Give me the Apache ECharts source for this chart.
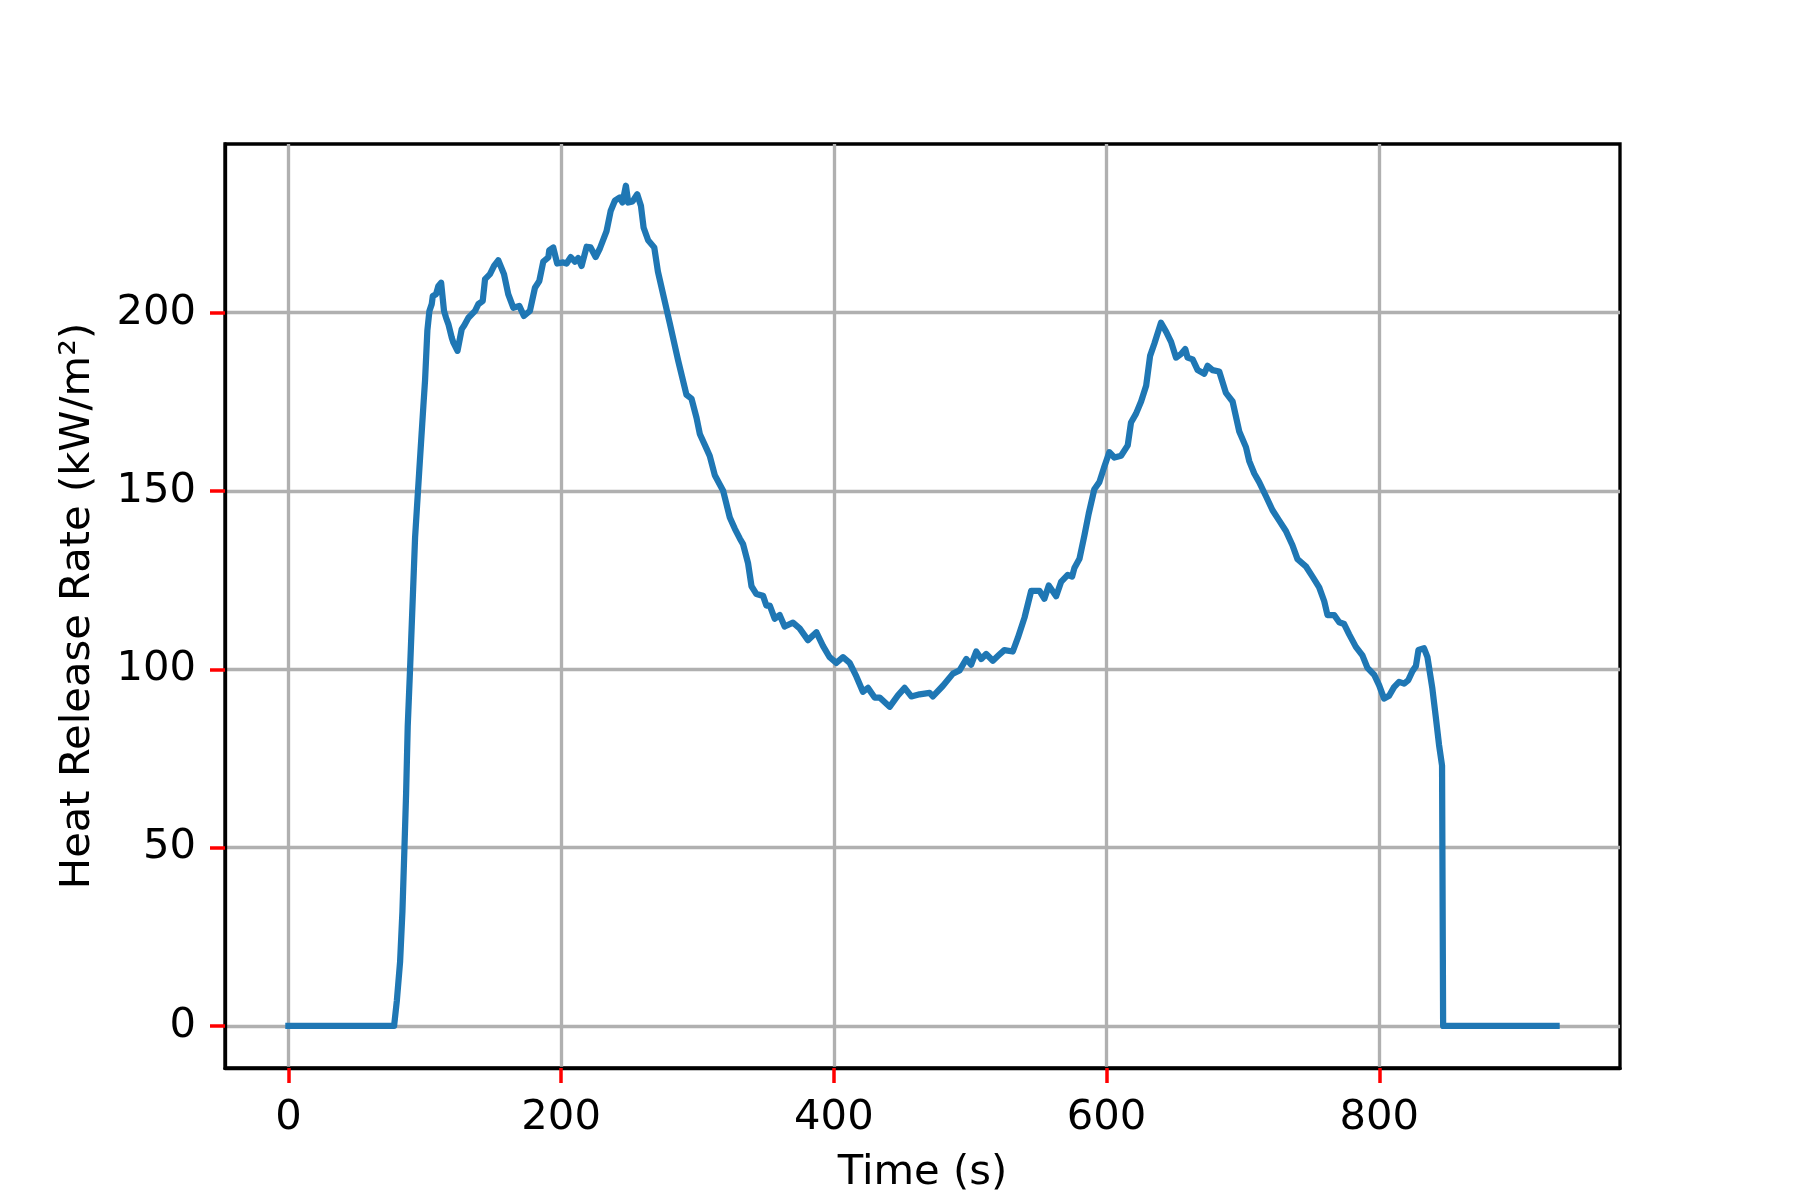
<!DOCTYPE html>
<html>
<head>
<meta charset="utf-8">
<script src="https://cdn.jsdelivr.net/npm/echarts@6/dist/echarts.min.js"></script>
<style>html,body{margin:0;padding:0;background:#fff;}#chart{width:1800px;height:1200px;}</style>
</head>
<body>
<div id="chart"></div>
<script>
// Time (s)
const time = [0, 77.5, 79.5, 81.9, 83.6, 85.1, 86.3, 87.5, 89.2, 92.9, 96, 99, 100.2, 101.9, 103.4, 105.1, 105.9, 108.3, 110, 112,
  114.1, 115.6, 117.3, 119.8, 121, 124, 127.1, 129, 132, 136.9, 139.3, 142.5, 144.2, 147.8, 150.8, 153.9, 158.1, 161.2, 164.9, 169.3,
  172.7, 177.1, 180.8, 184, 186.9, 190.6, 191.3, 194.2, 197.1, 201.5, 204, 207, 210.1, 212.5, 215, 218.7, 221.6, 225.3, 228.4, 233.3,
  236.3, 239.4, 243.1, 245, 247.5, 249.2, 252.4, 255.8, 258.5, 260.5, 263.8, 268.3, 271, 275.5, 279.7, 285.8, 291.9, 295.6, 299.3, 301.7,
  306.6, 309, 312.7, 318.8, 323.7, 327.4, 331, 333.4, 337.1, 339.6, 343.2, 348.1, 350.5, 353, 356.6, 360.3, 363.9, 370, 374.9, 381,
  387.2, 392, 396.9, 401.8, 406.7, 411.6, 416.5, 421.3, 425, 429.9, 433.6, 440.9, 447, 451.9, 456.8, 462.9, 470.2, 472.6, 480, 487.3,
  492.2, 497.1, 500.7, 504.4, 508.1, 511.7, 516.6, 521, 525, 531.2, 534.9, 539.8, 544.7, 550.8, 554.4, 557.6, 563, 566.6, 571.5, 574.7,
  576.4, 580.1, 583.7, 586.9, 591, 594.7, 598.4, 602, 605.7, 610.6, 615.5, 617.9, 621.6, 625.3, 629, 631.9, 635, 639.9, 643.6, 647.3,
  650.9, 654.6, 657.7, 659.4, 663.1, 666.8, 671.6, 674.1, 677.7, 682.6, 687.5, 692.4, 697.3, 702.2, 704.6, 708.3, 711.9, 716.8, 721.7, 726.6,
  731.5, 736.3, 740, 746.1, 751, 755.9, 759.6, 762, 766.9, 770.6, 774.2, 777.9, 782.8, 787.6, 791.3, 796.2, 799.9, 803.5, 807.2, 810.8,
  814.5, 818.2, 821.3, 824.3, 826.8, 828.7, 832.8, 835.3, 838.9, 841.4, 843.8, 846, 846.8, 930];
// Heat release rate (kW/m^2)
const hrr = [0, 0, 7, 18, 32, 50, 65, 84, 100, 137, 156, 174, 181, 195, 200.5, 202.4, 204.7, 205.2, 207.5, 208.4,
  200.5, 198.6, 196.8, 193, 191.6, 189.3, 195.4, 196.5, 198.6, 200.5, 202.4, 203.3, 209.4, 210.8, 213.1, 214.7, 210.8, 205.2, 201.4, 201.9,
  199.1, 200.5, 207, 208.9, 214.3, 215.5, 217.5, 218.3, 213.8, 214.1, 213.8, 215.6, 214.3, 215.3, 213.1, 218.5, 218.3, 215.6, 218, 222.9,
  228.5, 231.4, 232.3, 230.9, 235.6, 230.9, 231.2, 233.2, 230, 223.8, 220.3, 218.3, 211.5, 204, 197, 186.6, 177, 175.9, 170.5, 166,
  161.9, 159.8, 154.4, 150.1, 142.6, 139.4, 136.7, 135.1, 129.7, 123.3, 121.1, 120.6, 117.9, 117.9, 114.2, 115.2, 112, 113.1, 111.5, 108.2,
  110.4, 106.6, 103.4, 101.8, 103.4, 101.8, 98, 93.7, 94.8, 92.1, 92.1, 89.5, 92.7, 94.8, 92.4, 93, 93.4, 92.4, 95.4, 98.8,
  99.7, 102.9, 101.3, 105, 102.9, 104.3, 102.4, 104, 105.4, 105, 108.8, 114.5, 122, 122, 119.8, 123.5, 120.5, 124.5, 126.5, 126,
  128.4, 131, 137.5, 143.7, 150.5, 152.5, 156.9, 160.9, 159.4, 159.9, 162.8, 169.2, 171.7, 175.1, 179.5, 187.9, 191.3, 197.2, 194.7, 191.8,
  187.4, 188.4, 189.8, 187.4, 186.9, 183.9, 182.9, 185.1, 183.9, 183.5, 177.5, 175.1, 166.7, 162.3, 158.4, 154.9, 152.5, 148.6, 144.6, 141.7,
  138.8, 134.8, 130.9, 128.9, 126, 123, 119.1, 115.2, 115.2, 113.2, 112.7, 109.8, 106.3, 103.9, 100.4, 98.5, 95.5, 91.8, 92.6, 95,
  96.5, 96, 97, 99.5, 100.9, 105.4, 105.9, 103.4, 94.6, 86.7, 78.8, 73, 0, 0];
const xTicks = [0, 200, 400, 600, 800];
const yTicks = [0, 50, 100, 150, 200];

const points = time.map((t, i) => [t, hrr[i]]);
const FONT = 'DejaVu Sans';
const FS = 41.7;
const chart = echarts.init(document.getElementById('chart'));
chart.setOption({
  animation: false,
  grid: {left: 225, top: 144, width: 1395, height: 924, show: true, borderColor: '#000000', borderWidth: 3.33},
  xAxis: {
    type: 'value', min: -46.5, max: 976.5,
    name: 'Time (s)', nameLocation: 'middle', nameGap: 84,
    nameTextStyle: {fontFamily: FONT, fontSize: FS, color: '#000'},
    axisLine: {show: true, onZero: false, lineStyle: {color: '#000', width: 3.33}},
    axisTick: {show: true, inside: false, length: 15, lineStyle: {color: '#ff0000', width: 3.5}, customValues: xTicks},
    axisLabel: {show: true, margin: 29, fontFamily: FONT, fontSize: FS, color: '#000', customValues: xTicks},
    splitLine: {show: true, lineStyle: {color: '#b0b0b0', width: 3.33}}
  },
  yAxis: {
    type: 'value', min: -11.78, max: 247.3,
    name: 'Heat Release Rate (kW/m²)', nameLocation: 'middle', nameGap: 126, nameRotate: 90,
    nameTextStyle: {fontFamily: FONT, fontSize: FS, color: '#000'},
    axisLine: {show: true, onZero: false, lineStyle: {color: '#000', width: 3.33}},
    axisTick: {show: true, inside: false, length: 15, lineStyle: {color: '#ff0000', width: 3.5}, customValues: yTicks},
    axisLabel: {show: true, margin: 29, fontFamily: FONT, fontSize: FS, color: '#000', customValues: yTicks},
    splitLine: {show: true, lineStyle: {color: '#b0b0b0', width: 3.33}}
  },
  series: [{
    type: 'line', data: points, showSymbol: false, symbol: 'none',
    lineStyle: {color: '#1f77b4', width: 6.25, cap: 'square', join: 'round'},
    z: 3
  }]
});
</script>
</body>
</html>
